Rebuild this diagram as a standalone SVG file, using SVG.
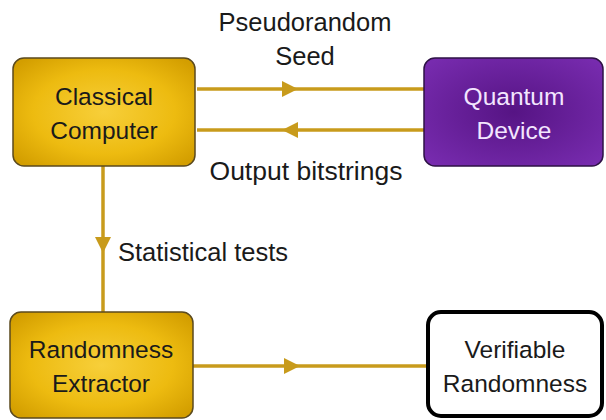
<svg xmlns="http://www.w3.org/2000/svg" width="606" height="420" viewBox="0 0 606 420">
  <style>
    text { font-family: "Liberation Sans", Arial, sans-serif; font-size: 24.5px; text-anchor: middle; }
    .lbl { fill: #1a1a1a; font-size: 25.5px; }
    .gold { fill: url(#goldFill); stroke: #5b4a1e; stroke-width: 1.5; }
    .purple { fill: url(#purpleFill); stroke: #2e1245; stroke-width: 1.5; }
    .plain { fill: #ffffff; stroke: #000000; stroke-width: 4; }
    .dark { fill: #1a1a1a; }
    .light { fill: #f3e6ff; }
    .wire { stroke: #c89b1c; stroke-width: 3.5; fill: none; }
    .head { fill: #c89b1c; }
  </style>
  <defs>
    <radialGradient id="goldFill" cx="50%" cy="50%" r="65%">
      <stop offset="0" stop-color="#f7cf3a"/>
      <stop offset="0.6" stop-color="#edbb10"/>
      <stop offset="1" stop-color="#d39e00"/>
    </radialGradient>
    <radialGradient id="purpleFill" cx="50%" cy="50%" r="65%">
      <stop offset="0" stop-color="#561484"/>
      <stop offset="1" stop-color="#772bae"/>
    </radialGradient>
  </defs>

  <rect width="606" height="420" fill="#ffffff"/>

  <!-- connectors -->
  <g id="connectors">
    <line class="wire" x1="197" y1="89" x2="424" y2="89"/>
    <polygon class="head" points="298,89 282,81 282,97"/>
    <line class="wire" x1="197" y1="130" x2="424" y2="130"/>
    <polygon class="head" points="282,130 298,122 298,138"/>
    <line class="wire" x1="103" y1="166" x2="103" y2="312"/>
    <polygon class="head" points="103,253 95,237 111,237"/>
    <line class="wire" x1="193" y1="366" x2="426" y2="366"/>
    <polygon class="head" points="300,366 284,358 284,374"/>
    <text class="lbl" x="305" y="31">Pseudorandom</text>
    <text class="lbl" x="305" y="65">Seed</text>
    <text class="lbl" x="306" y="180" style="font-size:26.5px">Output bitstrings</text>
    <text class="lbl" x="203" y="261">Statistical tests</text>
  </g>

  <g id="classical-computer">
    <rect class="gold" x="13" y="58" width="182" height="108" rx="11"/>
    <text class="dark" x="104" y="105">Classical</text>
    <text class="dark" x="104" y="139">Computer</text>
  </g>

  <g id="quantum-device">
    <rect class="purple" x="424" y="58" width="179" height="108" rx="11"/>
    <text class="light" x="514" y="105">Quantum</text>
    <text class="light" x="514" y="139">Device</text>
  </g>

  <g id="randomness-extractor">
    <rect class="gold" x="10" y="312" width="183" height="106" rx="11"/>
    <text class="dark" x="101" y="358">Randomness</text>
    <text class="dark" x="101" y="392">Extractor</text>
  </g>

  <g id="verifiable-randomness">
    <rect class="plain" x="428" y="312" width="174" height="104" rx="13"/>
    <text class="dark" x="515" y="358">Verifiable</text>
    <text class="dark" x="515" y="392">Randomness</text>
  </g>
</svg>
